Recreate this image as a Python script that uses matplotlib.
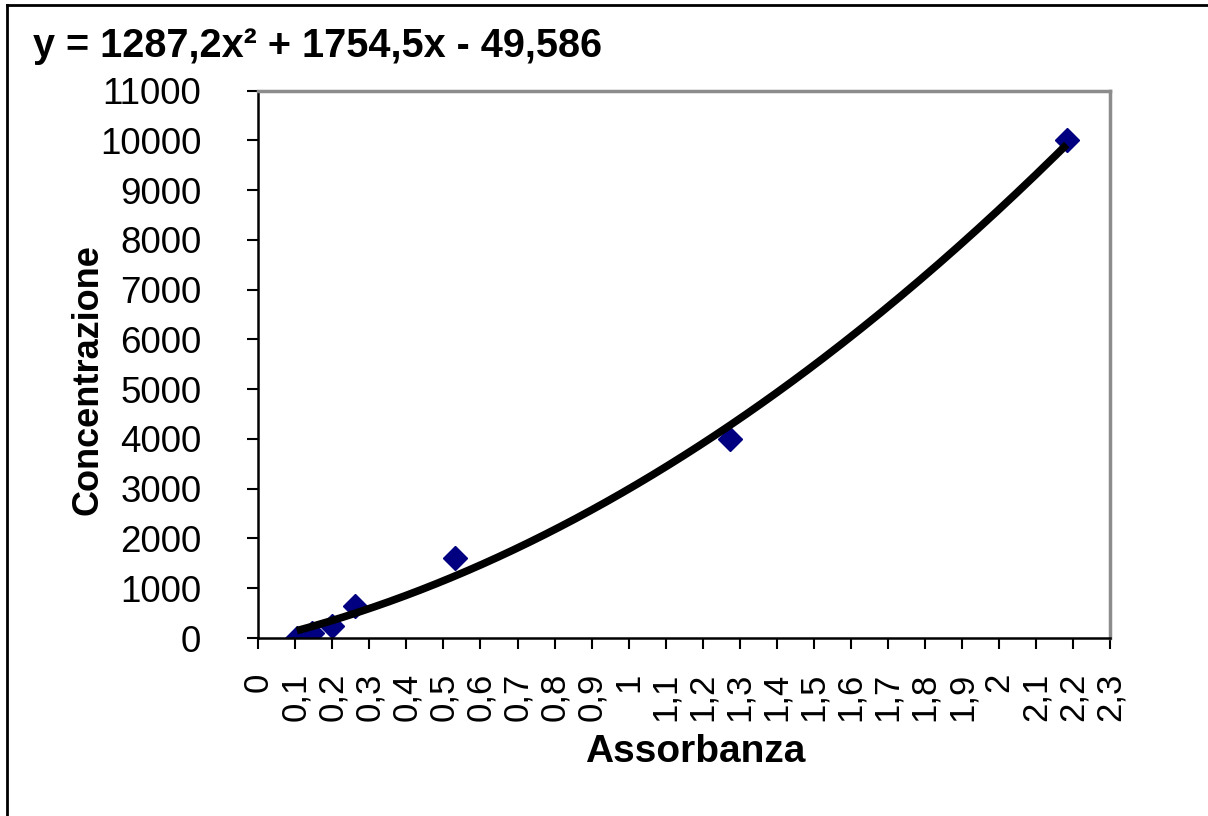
import numpy as np
import matplotlib
matplotlib.use("Agg")
import matplotlib.pyplot as plt
from matplotlib.lines import Line2D

# data
absorbance = [0.104, 0.145, 0.199, 0.26, 0.53, 1.273, 2.183]
concentration = [0, 100, 250, 640, 1600, 4000, 10000]
trend_coefs = [1287.2, 1754.5, -49.586]  # from the displayed trendline equation
equation_text = "y = 1287,2x² + 1754,5x - 49,586"
x_ticks = [round(0.1 * i, 1) for i in range(24)]
y_ticks = list(range(0, 11001, 1000))
x_title = "Assorbanza"
y_title = "Concentrazione"

plt.rcParams['font.family'] = ['Liberation Sans', 'DejaVu Sans']

fig = plt.figure(figsize=(12.08, 8.16), dpi=100)
ax = fig.add_axes([258.3 / 1208, 1 - 638 / 816, (1110 - 258.3) / 1208, (638 - 90.5) / 816])

xs = np.linspace(min(absorbance), max(absorbance), 200)
ax.plot(xs, np.polyval(trend_coefs, xs), color='black', lw=5.5, solid_capstyle='butt', zorder=3)
ax.plot(absorbance, concentration, linestyle='none', marker='D', markersize=12,
        color='#000080', markeredgecolor='#000080', zorder=2)

ax.set_xlim(0, 2.3)
ax.set_ylim(0, 11000)
ax.set_xticks(x_ticks)
ax.set_xticklabels([("%g" % t).replace('.', ',') for t in x_ticks], rotation=90, fontsize=25)
ax.set_yticks(y_ticks)
ax.set_yticklabels([str(t) for t in y_ticks], fontsize=26.5)
ax.tick_params(axis='x', direction='out', length=8, width=1.5, pad=17)
ax.tick_params(axis='y', direction='out', length=8, width=1.5, pad=33)

for s in ['left', 'bottom']:
    ax.spines[s].set_color('black')
    ax.spines[s].set_linewidth(1.8)
for s in ['top', 'right']:
    ax.spines[s].set_color('#8c8c8c')
    ax.spines[s].set_linewidth(2.5)

fig.text(695 / 1208, 1 - 752 / 816, x_title, fontsize=28, fontweight='bold', ha='center', va='center')
fig.text(88 / 1208, 1 - 380 / 816, y_title, fontsize=26, fontweight='bold', ha='center', va='center', rotation=90)
fig.text(33 / 1208, 1 - 46 / 816, equation_text, fontsize=28.5, fontweight='bold', ha='left', va='center')

# outer chart-area frame (left and top edges visible)
fig.add_artist(Line2D([7 / 1208, 7 / 1208], [0, 1 - 5 / 816], transform=fig.transFigure, color='black', lw=2))
fig.add_artist(Line2D([7 / 1208, 1], [1 - 5 / 816, 1 - 5 / 816], transform=fig.transFigure, color='black', lw=2))

fig.savefig("out.png", dpi=100)
